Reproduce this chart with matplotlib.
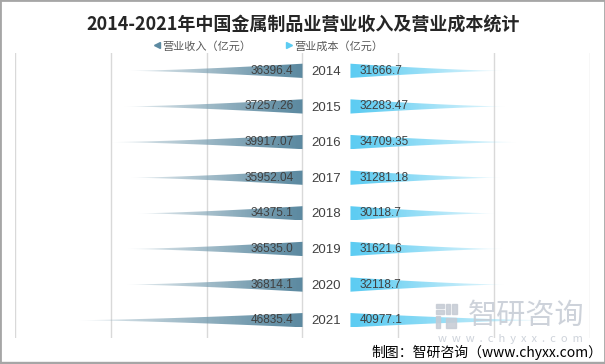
import numpy as np
import matplotlib
matplotlib.use("Agg")
import matplotlib.pyplot as plt
from matplotlib.patches import Polygon, Rectangle
from matplotlib.lines import Line2D

plt.rcParams['font.family'] = ['Noto Sans CJK SC', 'DejaVu Sans']

# data
years = ['2014', '2015', '2016', '2017', '2018', '2019', '2020', '2021']
revenue = [36396.4, 37257.26, 39917.07, 35952.04, 34375.1, 36535.0, 36814.1, 46835.4]
cost = [31666.7, 32283.47, 34709.35, 31281.18, 30118.7, 31621.6, 32118.7, 40977.1]
revenue_name = '营业收入（亿元）'
cost_name = '营业成本（亿元）'
title = '2014-2021年中国金属制品业营业收入及营业成本统计'

left_color = (0.36, 0.54, 0.63)
right_color = (0.36, 0.80, 0.95)
gap = 10000  # hidden middle band holding the year labels
half_h = 0.2

W, H = 605, 364
fig = plt.figure(figsize=(W / 100, H / 100), dpi=100)
ax = fig.add_axes([14.7 / W, (H - 338) / H, (590.3 - 14.7) / W, (338 - 53) / H])
ax.set_xlim(-60000, 60000)
ax.set_ylim(len(years) - 0.5, -0.5)
for s in ax.spines.values():
    s.set_visible(False)
ax.set_xticks([])
ax.set_yticks([])
for gx in range(-60000, 60001, 20000):
    ax.axvline(gx, color='#d9d9d9', lw=1, zorder=0)


def spike(x0, length, y, sign, color):
    # tapered arrow shape, clipped gradient fill
    t = np.linspace(0, 1, 80)
    xs = x0 + sign * length * t
    hh = half_h * (1 - t) ** 1.4
    verts = np.concatenate([np.column_stack([xs, y - hh]),
                            np.column_stack([xs[::-1], (y + hh)[::-1]])])
    poly = Polygon(verts, closed=True, facecolor='none', edgecolor='none')
    ax.add_patch(poly)
    n = 200
    tt = np.linspace(0, 1, n)
    img = np.zeros((1, n, 4))
    for c in range(3):
        img[0, :, c] = color[c] + (1 - color[c]) * 0.35 * tt
    img[0, :, 3] = 1 - 0.8 * tt ** 1.6
    if sign < 0:
        img = img[:, ::-1, :]
        ext = [x0 - length, x0, y + half_h, y - half_h]
    else:
        ext = [x0, x0 + length, y + half_h, y - half_h]
    im = ax.imshow(img, extent=ext, aspect='auto', interpolation='bilinear', zorder=2)
    im.set_clip_path(poly)


num_font = ['Liberation Sans', 'DejaVu Sans']
for i, yr in enumerate(years):
    spike(0, revenue[i], i, -1, left_color)
    spike(gap, cost[i], i, 1, right_color)
    ax.text(-1900, i, str(revenue[i]), ha='right', va='center', fontsize=8.5,
            color='#404040', family=num_font, zorder=3)
    ax.text(gap + 1900, i, str(cost[i]), ha='left', va='center', fontsize=8.5,
            color='#404040', family=num_font, zorder=3)
    ax.text(gap / 2, i + 0.03, yr, ha='center', va='center', fontsize=9.5,
            color='#404040', family=num_font, zorder=3)
ax.set_xlim(-60000, 60000)
ax.set_ylim(len(years) - 0.5, -0.5)

fig.text(303 / W, 1 - 24 / H, title, ha='center', va='center', fontsize=13,
         fontweight='bold', color='#262626')

handles = [Line2D([], [], ls='none', marker='<', ms=4, color=left_color),
           Line2D([], [], ls='none', marker='>', ms=4, color=right_color)]
fig.legend(handles, [revenue_name, cost_name], loc='center', ncol=2,
           bbox_to_anchor=(268 / W, 1 - 46 / H), frameon=False, fontsize=8,
           handletextpad=0.1, columnspacing=3.0, handlelength=0.8,
           labelcolor='#595959')

# watermark
wm = '#c5cbd4'
fig.text(526 / W, 1 - 316 / H, '智研咨询', ha='center', va='center', fontsize=21,
         color=wm, alpha=0.85, zorder=5)
fig.text(510 / W, 1 - 339 / H, 'w  w  w  .  c  h  y  x  x  .  c  o  m', ha='center',
         va='center', fontsize=8, color=wm, alpha=0.85, zorder=5)
for (x, y, w, h) in [(436, 304, 8, 4), (436, 310, 8, 4), (436, 316, 4, 12),
                     (446, 304, 4, 10), (446, 318, 10, 10), (452, 304, 5, 10)]:
    fig.patches.append(Rectangle((x / W, 1 - (y + h) / H), w / W, h / H,
                                 transform=fig.transFigure, color=wm, alpha=0.85, zorder=5))

fig.text(602 / W, 1 - 352 / H, '制图：智研咨询（www.chyxx.com）', ha='right', va='center',
         fontsize=10, color='black')

# frame
fig.patches.append(Rectangle((0, 0), 1, 1, transform=fig.transFigure, fill=False,
                             edgecolor='#a6a6a6', lw=2))
fig.patches.append(Rectangle((0, 0), 1, 2.5 / H, transform=fig.transFigure,
                             color='#a6a6a6'))

fig.savefig('out.png', dpi=100)
